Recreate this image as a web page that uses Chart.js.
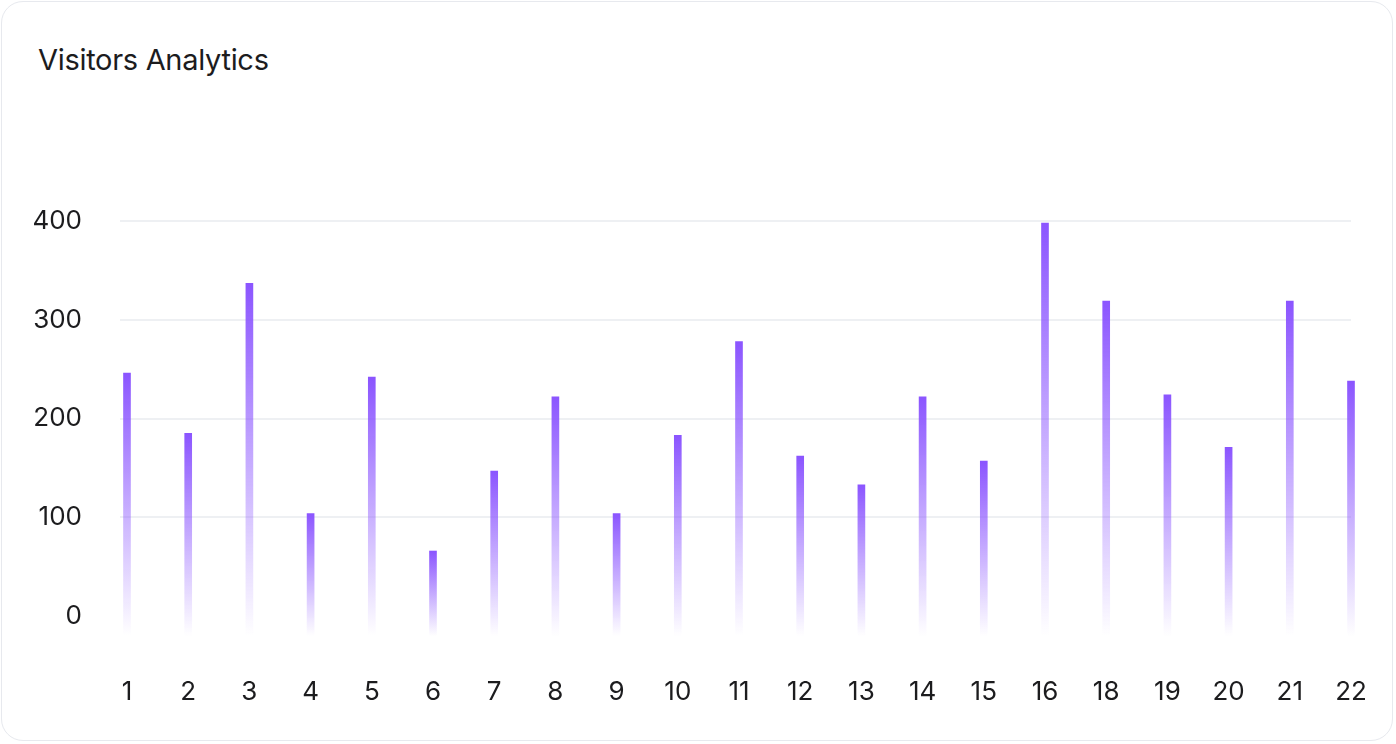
<!DOCTYPE html>
<html>
<head>
<meta charset="utf-8">
<script src="https://cdn.jsdelivr.net/npm/chart.js@4.4.1/dist/chart.umd.min.js"></script>
<style>
  html, body { margin: 0; padding: 0; background: #fff; }
  body { width: 1396px; height: 744px; position: relative; overflow: hidden; font-family: Inter, sans-serif; }
  .card { position: absolute; left: 1px; top: 1px; width: 1392px; height: 740px; border: 1px solid #e7e9ee; border-radius: 22px; box-sizing: border-box; }
  .title { position: absolute; left: 38px; top: 42px; font-size: 29px; color: #1c1c1e; letter-spacing: -0.3px; }
  #graph { position: absolute; left: 0; top: 0; }
</style>
</head>
<body>
<div class="card"></div>
<div class="title">Visitors Analytics</div>
<canvas id="graph" width="1396" height="744"></canvas>
<script>
const days = ['1', '2', '3', '4', '5', '6', '7', '8', '9', '10', '11', '12', '13', '14', '15', '16', '18', '19', '20', '21', '22'];
const visitors = [246, 185, 337, 104, 242, 66, 147, 222, 104, 183, 278, 162, 133, 222, 157, 398, 319, 224, 171, 319, 238];
const yTicks = [0, 100, 200, 300, 400];

const barBase = -20;

// each bar gets its own fade, from full violet at the top to nothing at the base
function barFill(context) {
  const chart = context.chart;
  if (!chart.chartArea || context.raw === undefined) return '#8b55ff';
  const y = chart.scales.y;
  const top = y.getPixelForValue(context.raw);
  const bottom = y.getPixelForValue(barBase);
  const g = chart.ctx.createLinearGradient(0, top, 0, bottom);
  g.addColorStop(0, 'rgba(139, 85, 255, 1)');
  g.addColorStop(1, 'rgba(139, 85, 255, 0)');
  return g;
}

const chartConfig = {
  type: 'bar',
  data: {
    labels: days,
    datasets: [
      {
        label: 'Visitors',
        data: visitors,
        base: barBase,
        backgroundColor: barFill,
        barThickness: 7,
        borderWidth: 0,
        clip: false,
      },
    ],
  },
  options: {
    responsive: false,
    animation: false,
    layout: {
      padding: { top: 221, right: 45, left: 0, bottom: 0 },
    },
    plugins: {
      legend: { display: false },
      tooltip: { enabled: false },
    },
    scales: {
      x: {
        offset: false,
        grid: { display: false },
        border: { display: false },
        ticks: {
          color: '#1c1c1e',
          font: { family: 'Inter', size: 26 },
          padding: 33,
          maxRotation: 0,
          autoSkip: false,
        },
        afterFit: (scale) => {
          scale.height = 108;
          scale.paddingLeft = 0;
          scale.paddingRight = 0;
        },
      },
      y: {
        min: barBase,
        max: 400,
        afterBuildTicks: (scale) => { scale.ticks = yTicks.map(v => ({ value: v })); },
        grid: {
          color: (c) => (c.tick && c.tick.value === 0 ? 'rgba(0,0,0,0)' : '#eef0f3'),
          lineWidth: 2,
          drawTicks: true,
          tickLength: 7,
        },
        border: { display: false },
        ticks: {
          color: '#1c1c1e',
          font: { family: 'Inter', size: 26 },
          padding: 38,
        },
        afterFit: (scale) => {
          scale.width = 127;
          scale.paddingTop = 0;
          scale.paddingBottom = 0;
        },
      },
    },
  },
};

const graph = new Chart(document.getElementById('graph'), chartConfig);
</script>
</body>
</html>
